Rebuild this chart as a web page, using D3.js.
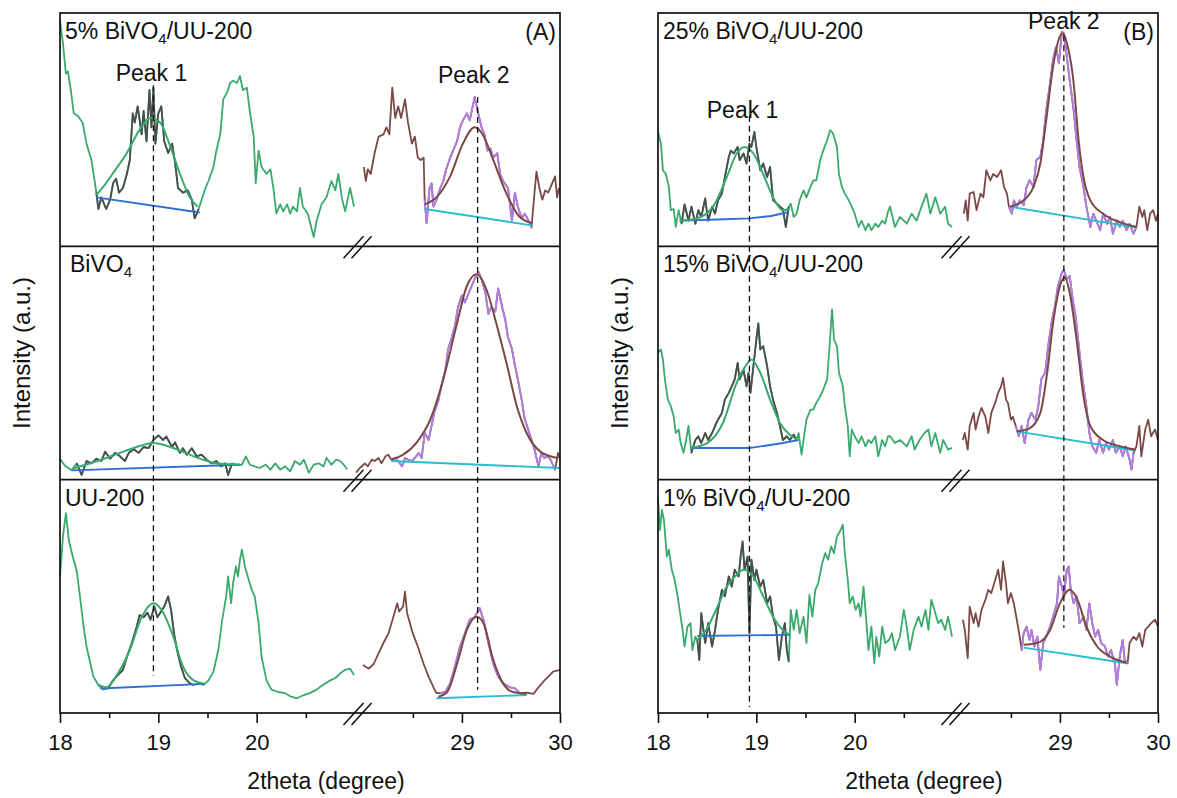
<!DOCTYPE html>
<html>
<head>
<meta charset="utf-8">
<script src="https://cdn.jsdelivr.net/npm/d3@7"></script>
<style>
  body { margin: 0; background: #fff; }
  text { font-family: "Liberation Sans", Arial, sans-serif; fill: #111; }
</style>
</head>
<body>
<svg width="1177" height="798"></svg>
<script>
// ---- axis data (2theta, degree) ----
const xBreaks = [18, 21, 27.92, 30];
const majorTicks = [18, 19, 20, 29, 30];
const minorTicks = [18.5, 19.5, 20.5, 28.5, 29.5];

// ---- panel A, row 1 : 5% BiVO4/UU-200 ----
const a1Left = [[18.00,97],[18.03,87],[18.06,74],[18.08,75],[18.11,67],[18.14,57],[18.18,56],[18.23,53],[18.27,44],[18.32,37],[18.37,23],[18.39,16],[18.42,21],[18.47,16],[18.51,20],[18.54,27],[18.57,29],[18.60,23],[18.64,25],[18.68,31],[18.71,37],[18.74,57],[18.76,53],[18.79,60],[18.83,48],[18.85,58],[18.88,45],[18.91,67],[18.93,51],[18.95,68],[18.97,44],[19.00,57],[19.03,60],[19.06,45],[19.10,40],[19.14,44],[19.17,36],[19.20,25],[19.25,23],[19.30,24],[19.34,20],[19.37,12],[19.41,16],[19.44,20],[19.48,25],[19.51,28],[19.56,34],[19.59,41],[19.63,48],[19.66,63],[19.70,66],[19.73,70],[19.76,71],[19.80,70],[19.83,73],[19.86,67],[19.90,68],[19.93,58],[19.97,47],[19.99,27],[20.02,41],[20.05,34],[20.10,31],[20.14,33],[20.17,25],[20.20,14],[20.24,18],[20.27,15],[20.31,18],[20.34,14],[20.37,17],[20.41,15],[20.44,25],[20.47,17],[20.52,14],[20.58,4],[20.61,11],[20.66,18],[20.71,21],[20.76,28],[20.80,24],[20.83,31],[20.87,20],[20.90,15],[20.95,25],[20.99,17]];
const a1Right = [[28.00,34],[28.02,28],[28.04,33],[28.07,31],[28.11,40],[28.15,47],[28.20,48],[28.23,51],[28.26,48],[28.29,68],[28.32,55],[28.35,60],[28.38,55],[28.42,63],[28.45,53],[28.49,44],[28.52,47],[28.55,38],[28.58,37],[28.61,38],[28.62,20],[28.64,10],[28.67,25],[28.69,27],[28.71,17],[28.74,20],[28.78,25],[28.81,28],[28.84,33],[28.88,38],[28.91,41],[28.95,45],[28.98,51],[29.01,54],[29.05,57],[29.08,54],[29.11,60],[29.13,64],[29.16,58],[29.20,51],[29.23,48],[29.26,41],[29.29,42],[29.32,38],[29.36,40],[29.39,31],[29.42,28],[29.47,25],[29.51,11],[29.54,23],[29.57,17],[29.61,12],[29.64,14],[29.68,11],[29.71,8],[29.74,23],[29.76,32],[29.79,25],[29.82,20],[29.85,24],[29.88,23],[29.92,27],[29.95,30],[29.97,21],[29.99,25]];
const a1Fit1 = [[18.37,22],[18.45,26],[18.55,32],[18.68,40],[18.81,50],[18.92,55],[19.02,53],[19.12,43],[19.22,31],[19.32,21],[19.40,17]];
const a1Base1 = [[18.37,21],[19.42,14.5]];
const a1Fit2 = [[28.62,18],[28.74,21],[28.88,30],[29.01,44],[29.13,51],[29.21,48],[29.31,38],[29.45,23],[29.58,13],[29.71,10]];
const a1Base2 = [[28.62,16],[29.71,9]];

// ---- panel A, row 2 : BiVO4 ----
const a2Left = [[18.00,9],[18.05,6],[18.12,4],[18.17,7],[18.22,2],[18.27,8],[18.32,7],[18.37,9],[18.42,8],[18.46,12],[18.51,9],[18.56,11.5],[18.61,10],[18.66,8],[18.70,11.5],[18.75,13],[18.80,11.5],[18.85,14],[18.90,13.5],[18.95,17],[19.00,19],[19.05,17],[19.08,18.5],[19.14,14],[19.17,16],[19.22,11.5],[19.25,13.5],[19.29,10.7],[19.34,13.5],[19.39,10],[19.44,10.7],[19.49,8.6],[19.54,7],[19.59,8],[19.64,5.7],[19.68,7],[19.71,2],[19.75,7],[19.80,6.4],[19.85,6.4],[19.89,10],[19.93,6.4],[19.98,5.7],[20.03,5],[20.09,6.4],[20.14,4.3],[20.19,7],[20.24,4.3],[20.29,5.7],[20.34,3.6],[20.39,8],[20.44,6.4],[20.48,8.6],[20.53,3],[20.58,6.4],[20.63,7],[20.68,5.7],[20.71,9.3],[20.76,6.4],[20.81,8.6],[20.85,8],[20.90,5.7],[20.92,4.3]];
const a2Right = [[27.92,3],[27.96,5],[28.01,7],[28.04,5.7],[28.08,8.6],[28.11,8],[28.15,9.3],[28.18,7],[28.22,10],[28.25,10.7],[28.28,8.6],[28.32,9.3],[28.35,8],[28.39,5.7],[28.42,9.3],[28.45,8.6],[28.49,8],[28.52,9.3],[28.56,11.5],[28.59,9.3],[28.62,20],[28.66,17],[28.69,23],[28.72,29],[28.76,34],[28.79,40],[28.83,47],[28.86,56],[28.89,60],[28.93,66],[28.96,74],[29.00,79],[29.03,76],[29.07,80],[29.10,83],[29.13,86],[29.17,89],[29.20,86],[29.24,80],[29.27,71],[29.30,74],[29.34,72],[29.37,82],[29.41,74],[29.44,69],[29.47,61],[29.51,56],[29.54,49],[29.57,43],[29.61,34],[29.64,26],[29.68,21],[29.71,17],[29.74,13],[29.78,5.7],[29.81,11.5],[29.84,9.3],[29.88,10],[29.91,8],[29.95,4.3],[29.98,11.5],[30.00,8.6]];
const a2Fit1 = [[18.12,4.6],[18.47,9.3],[18.75,13.6],[18.95,15.7],[19.15,13.6],[19.36,10],[19.59,7],[19.83,6.4]];
const a2Base1 = [[18.12,4],[19.83,6.4]];
const a2Fit2 = [[28.28,8.6],[28.40,10.7],[28.54,16],[28.68,26],[28.81,43],[28.95,67],[29.05,83],[29.15,88],[29.25,81.5],[29.35,67],[29.46,49],[29.56,31.5],[29.66,20],[29.80,12],[29.97,9.3]];
const a2Base2 = [[28.28,8],[30.00,5]];

// ---- panel A, row 3 : UU-200 ----
const a3Left = [[18.00,58.5],[18.03,75.7],[18.06,85.7],[18.09,74],[18.13,67],[18.17,61],[18.20,51],[18.24,37],[18.27,28.5],[18.31,21],[18.34,15.6],[18.39,12],[18.44,10],[18.49,10.6],[18.54,14],[18.59,16.3],[18.64,18.5],[18.68,24],[18.73,30],[18.78,37],[18.81,42],[18.85,41],[18.89,43],[18.92,40],[18.96,45.6],[18.99,41],[19.02,43],[19.06,45.6],[19.10,50],[19.13,44],[19.16,34],[19.19,27],[19.23,20],[19.27,15],[19.32,12.7],[19.36,12],[19.41,12.7],[19.46,12],[19.51,14],[19.56,17.7],[19.61,27],[19.65,40],[19.69,50],[19.71,58.5],[19.74,47],[19.76,55.6],[19.79,62.8],[19.81,58.5],[19.83,65.7],[19.85,70],[19.88,62.8],[19.92,57],[19.95,52.8],[19.98,50],[20.02,38.5],[20.05,24],[20.10,14],[20.15,10],[20.22,9],[20.29,8.5],[20.35,7],[20.41,6.3],[20.48,7.7],[20.54,8.5],[20.61,10],[20.64,11],[20.70,12.7],[20.75,14],[20.80,15],[20.85,17],[20.90,18.5],[20.95,19],[20.99,16.3]];
const a3Right = [[27.99,20.6],[28.05,19],[28.10,21],[28.15,25.6],[28.20,30],[28.25,34],[28.30,41],[28.34,47],[28.36,43.5],[28.40,45.6],[28.42,52],[28.44,43],[28.47,38.5],[28.50,34],[28.55,28.5],[28.61,21],[28.66,15.6],[28.71,11],[28.74,8.5],[28.78,8.5],[28.83,9],[28.88,12.7],[28.93,20],[28.98,28.5],[29.03,34],[29.08,40],[29.13,41],[29.18,45],[29.22,40],[29.27,30],[29.32,21],[29.37,15.6],[29.42,12.7],[29.49,11],[29.54,10.6],[29.59,8.5],[29.66,8.7],[29.73,8.2],[29.78,11],[29.83,13.4],[29.88,15.6],[29.93,17.7],[30.00,18.5]];
const a3Fit1 = [[18.39,12],[18.47,11],[18.59,17],[18.71,27],[18.83,41],[18.95,47],[19.05,43],[19.15,33],[19.25,20],[19.36,14],[19.46,12.7]];
const a3Base1 = [[18.41,10.5],[19.47,12.5]];
const a3Fit2 = [[28.76,7],[28.85,9],[28.95,21],[29.05,35.6],[29.15,41.3],[29.22,38.5],[29.32,22.7],[29.42,12.7],[29.52,9],[29.66,8.2]];
const a3Base2 = [[28.74,6.3],[29.66,7.7]];

// ---- panel B, row 1 : 25% BiVO4/UU-200 ----
const b1Left = [[18.00,49],[18.03,44],[18.05,32.6],[18.08,31],[18.11,25.5],[18.13,15.5],[18.16,16],[18.18,8.3],[18.21,15.5],[18.24,9.7],[18.27,18],[18.31,11],[18.34,17],[18.38,9.7],[18.41,15.5],[18.44,12.6],[18.48,20.5],[18.51,11],[18.55,17],[18.58,14],[18.61,19.7],[18.65,22.6],[18.68,29.7],[18.72,38.3],[18.74,41],[18.77,39.8],[18.81,42.6],[18.83,37],[18.87,39.8],[18.90,35.5],[18.93,44],[18.95,42.6],[18.98,49],[19.00,42.6],[19.04,32.6],[19.07,35.5],[19.11,29.7],[19.14,34],[19.17,19.7],[19.21,18.3],[19.24,17],[19.27,16],[19.30,8.3],[19.33,17],[19.35,18.3],[19.38,12.6],[19.41,14],[19.44,19.7],[19.48,24],[19.51,21],[19.55,25.5],[19.58,28.3],[19.61,28.3],[19.65,37],[19.68,41],[19.72,45.5],[19.75,49.8],[19.78,48.4],[19.82,42.6],[19.84,31],[19.87,25.5],[19.90,22.6],[19.94,19.7],[19.97,17],[20.00,14],[20.04,8.3],[20.07,11],[20.11,6.9],[20.14,9.7],[20.17,6.9],[20.21,9.7],[20.24,8.3],[20.28,11],[20.31,9.7],[20.34,15],[20.36,17],[20.41,8.3],[20.46,12.6],[20.53,9.7],[20.58,14],[20.63,11],[20.68,17],[20.73,22.6],[20.77,14],[20.82,21],[20.87,14],[20.92,17],[20.95,9.7],[20.99,8.3]];
const b1Right = [[28.02,14],[28.04,19.7],[28.06,11],[28.08,22.6],[28.12,23.3],[28.15,15.5],[28.19,22.6],[28.22,21],[28.25,32.6],[28.29,28.3],[28.32,31],[28.36,29.7],[28.40,32.6],[28.43,25.5],[28.46,22.6],[28.48,17],[28.51,14],[28.53,19.7],[28.56,17],[28.59,19.7],[28.63,17.6],[28.66,25.5],[28.69,28.3],[28.73,25.5],[28.76,37],[28.80,38.3],[28.83,45.5],[28.86,58.4],[28.90,70],[28.93,80],[28.96,85.5],[28.99,78.4],[29.02,92],[29.04,91.3],[29.07,81.3],[29.10,71],[29.14,58.4],[29.17,45.5],[29.20,34],[29.24,25.5],[29.27,17],[29.31,8.3],[29.34,14],[29.37,11],[29.41,6.9],[29.44,14],[29.48,9.7],[29.51,12.6],[29.54,5.4],[29.58,11],[29.61,8.3],[29.64,11],[29.68,6.9],[29.71,9.7],[29.75,5.4],[29.78,8.3],[29.81,17],[29.84,12.6],[29.86,15.5],[29.89,6.9],[29.92,14],[29.95,15.5],[29.98,11],[30.00,14]];
const b1Fit1 = [[18.22,11],[18.39,11.9],[18.56,17],[18.70,29.7],[18.80,39.8],[18.88,42.6],[18.97,39.8],[19.07,31],[19.17,21],[19.27,15.5],[19.34,16]];
const b1Base1 = [[18.22,11],[18.60,11.5],[18.93,12],[19.15,13],[19.31,14.5]];
const b1Fit2 = [[28.49,17],[28.63,19.7],[28.73,25.5],[28.80,35.5],[28.86,54],[28.93,77],[29.00,90],[29.03,91.3],[29.08,85.5],[29.14,70],[29.19,45.5],[29.24,29.7],[29.31,19.7],[29.44,14],[29.61,10.4],[29.78,8.3]];
const b1Base2 = [[28.49,17],[29.78,8]];

// ---- panel B, row 2 : 15% BiVO4/UU-200 ----
const b2Left = [[18.00,54.4],[18.03,55.8],[18.05,51.5],[18.07,43],[18.10,34.3],[18.13,31.5],[18.16,27],[18.18,20],[18.21,21.5],[18.23,15.7],[18.26,11.5],[18.28,15.7],[18.31,23],[18.34,11.5],[18.38,17],[18.41,18.6],[18.44,15.7],[18.48,20],[18.51,17],[18.55,20],[18.58,23],[18.61,25.7],[18.65,28.6],[18.68,34.3],[18.72,37.2],[18.75,40],[18.78,43],[18.81,50],[18.83,43],[18.87,47],[18.90,40],[18.92,45.8],[18.94,37.2],[18.97,48.6],[19.00,60],[19.02,67],[19.04,55.8],[19.07,57.2],[19.11,48.6],[19.14,40],[19.17,34.3],[19.21,28.6],[19.24,23],[19.27,17],[19.31,18.6],[19.34,17],[19.38,19.3],[19.41,17],[19.43,20],[19.46,10.7],[19.49,20],[19.51,25.7],[19.55,30],[19.58,30],[19.61,32.9],[19.65,35.8],[19.68,38.6],[19.72,43],[19.74,54.4],[19.77,73],[19.79,60],[19.82,57.2],[19.84,45.8],[19.88,40],[19.90,31.5],[19.93,23],[19.95,10],[19.97,21.5],[20.00,18.6],[20.04,15.7],[20.07,18.6],[20.11,14.3],[20.14,17],[20.17,15.7],[20.21,18.6],[20.24,10],[20.28,17],[20.31,14.3],[20.34,18.6],[20.36,18.6],[20.41,15.7],[20.46,17],[20.53,14.3],[20.58,18.6],[20.61,12.9],[20.66,17],[20.71,20],[20.75,21.5],[20.78,14.3],[20.82,20],[20.87,11.5],[20.90,17],[20.95,12.9],[20.99,13.6]];
const b2Right = [[28.01,17],[28.03,20],[28.06,12.9],[28.08,23],[28.12,28.6],[28.14,21.5],[28.17,27],[28.20,30.8],[28.24,27],[28.27,20],[28.30,28.6],[28.34,32.9],[28.37,37.2],[28.40,40],[28.42,43.6],[28.45,34.3],[28.47,32.9],[28.50,25.7],[28.52,27],[28.55,23],[28.58,18.6],[28.61,23],[28.64,15.7],[28.68,25.7],[28.71,28.6],[28.75,25.7],[28.78,31.5],[28.81,43],[28.85,45.8],[28.88,57.2],[28.92,68.7],[28.95,74.4],[28.98,83],[29.02,88.7],[29.04,90],[29.07,85.8],[29.10,87.2],[29.13,77.3],[29.16,70],[29.20,54.4],[29.23,43],[29.27,31.5],[29.30,20],[29.33,14.3],[29.37,11.5],[29.40,17],[29.44,11.5],[29.47,15.7],[29.50,12.9],[29.54,17],[29.57,11.5],[29.61,14.3],[29.64,10],[29.67,14.3],[29.71,8.6],[29.73,4.3],[29.75,11.5],[29.78,14.3],[29.81,23],[29.83,10],[29.87,21.5],[29.90,25.7],[29.93,18.6],[29.97,21.5],[30.00,17]];
const b2Fit1 = [[18.33,13.6],[18.50,15.7],[18.66,24.3],[18.80,41.5],[18.88,48],[18.95,51.5],[19.04,45.8],[19.14,34.3],[19.24,24.3],[19.34,19.3],[19.43,17]];
const b2Base1 = [[18.33,13.6],[18.94,13.6],[19.27,15.7],[19.43,17]];
const b2Fit2 = [[28.56,20.7],[28.69,22],[28.80,28.6],[28.87,45.8],[28.93,67],[29.00,83],[29.05,86.6],[29.10,80],[29.17,60],[29.24,35.8],[29.31,23],[29.44,17],[29.61,14.3],[29.77,12.9]];
const b2Base2 = [[28.56,20.7],[29.77,12.5]];

// ---- panel B, row 3 : 1% BiVO4/UU-200 ----
const b3Left = [[18.00,92],[18.02,78.5],[18.04,87],[18.06,82.8],[18.09,67],[18.11,70],[18.14,61.4],[18.17,57],[18.20,50],[18.22,44.2],[18.25,35.6],[18.27,28.5],[18.30,37],[18.33,38.5],[18.35,27],[18.38,32.7],[18.40,31.3],[18.42,22.7],[18.44,42.8],[18.48,30],[18.51,38.5],[18.55,28.5],[18.58,35.6],[18.61,44.2],[18.65,52.8],[18.68,50],[18.72,58.5],[18.75,54.2],[18.78,61.4],[18.82,58.5],[18.84,67],[18.86,73.5],[18.88,61.4],[18.91,67],[18.93,34.2],[18.95,65.7],[18.98,57],[19.00,61.4],[19.04,54.2],[19.07,57],[19.11,47],[19.14,50],[19.17,41.3],[19.20,37],[19.23,22.7],[19.26,32.7],[19.29,38.5],[19.31,27],[19.33,22],[19.35,44.2],[19.38,35.6],[19.41,44.2],[19.44,34.2],[19.48,41.3],[19.51,30],[19.54,50.6],[19.57,41.3],[19.60,52.8],[19.63,55.7],[19.67,64.2],[19.70,68.5],[19.73,65.7],[19.76,71.4],[19.79,68.5],[19.82,75.7],[19.85,77.8],[19.88,80.7],[19.90,68.5],[19.93,57],[19.95,47],[19.98,50],[20.01,44.2],[20.04,47],[20.06,41.3],[20.09,54.2],[20.12,38.5],[20.14,27],[20.17,37],[20.20,21.3],[20.22,32.7],[20.25,24.2],[20.28,37],[20.31,30],[20.35,31.3],[20.38,34.2],[20.41,27],[20.46,32.7],[20.50,44.2],[20.53,37],[20.56,27],[20.60,35.6],[20.65,41.3],[20.68,37],[20.72,44.2],[20.75,35.6],[20.78,48.5],[20.82,42.8],[20.85,38.5],[20.88,40],[20.92,35.6],[20.95,41.3],[20.99,32.7]];
const b3Right = [[28.01,40],[28.03,35.6],[28.06,23.5],[28.08,45.6],[28.12,38.5],[28.14,42.8],[28.17,37],[28.20,44.2],[28.24,48.5],[28.27,52.8],[28.30,51.4],[28.34,57],[28.37,61.4],[28.40,52.8],[28.42,65],[28.45,55.7],[28.47,47],[28.50,51.4],[28.53,47],[28.56,40],[28.59,32.7],[28.61,27],[28.63,34.2],[28.66,37],[28.69,31.3],[28.71,35.6],[28.74,28.5],[28.77,32.7],[28.80,18.5],[28.83,30],[28.86,32.7],[28.90,37],[28.93,41.3],[28.97,47],[28.99,58.5],[29.02,54.2],[29.04,50],[29.07,61.4],[29.09,62.8],[29.11,52.8],[29.14,47],[29.17,50],[29.20,38.5],[29.24,41.3],[29.27,35.6],[29.30,47],[29.33,38.5],[29.36,32.7],[29.39,35.6],[29.42,30],[29.46,28.5],[29.49,24.2],[29.52,27],[29.56,21.3],[29.58,12],[29.61,24.2],[29.64,31.3],[29.66,22.7],[29.69,21.3],[29.71,30],[29.75,32.7],[29.78,31.3],[29.81,34.2],[29.84,28.5],[29.87,35.6],[29.90,37],[29.93,38.5],[29.97,40],[30.00,37]];
const b3Fit1 = [[18.40,31.3],[18.49,35.6],[18.59,44.2],[18.70,54.2],[18.80,59.2],[18.87,61.4],[18.97,58.5],[19.07,50],[19.17,41.3],[19.27,35.6],[19.34,33.5]];
const b3Base1 = [[18.40,33],[19.34,33.5]];
const b3Fit2 = [[28.63,29.2],[28.77,30],[28.90,35.6],[29.00,47],[29.10,52.8],[29.18,48.5],[29.27,37],[29.38,28.5],[29.51,24.2],[29.68,21.6]];
const b3Base2 = [[28.63,28],[29.68,21.3]];

// sample names and fitted windows (2theta)
const namesA = ['5% BiVO4/UU-200', 'BiVO4', 'UU-200'];
const namesB = ['25% BiVO4/UU-200', '15% BiVO4/UU-200', '1% BiVO4/UU-200'];
const peak1WinA = [[18.37, 19.42], [18.15, 19.77], [18.47, 19.38]];
const peak2WinA = [[28.62, 29.71], [28.30, 29.97], [28.76, 29.62]];
const peak1WinB = [[18.23, 19.33], [18.33, 19.42], [18.40, 19.34]];
const peak2WinB = [[28.48, 29.78], [28.55, 29.77], [28.61, 29.69]];
// peak markers: 2theta, label 2theta, top/label value in first row, end value in last row
const peaksA = [{name: 'Peak 1', at: 18.95, lab: 18.93, top: 69, labV: 71, bottom: 16},
                {name: 'Peak 2', at: 29.16, lab: 29.12, top: 64, labV: 70, bottom: 10}];
const peaksB = [{name: 'Peak 1', at: 18.93, lab: 18.86, top: 56, labV: 55, bottom: 2.6},
                {name: 'Peak 2', at: 29.04, lab: 29.04, top: 90.5, labV: 93, bottom: 36.5}];

const colors = {raw1: '#3aaa6c', peak1: '#4d4d4d', base1: '#2f6fd3',
                raw2: '#7a4945', peak2: '#b27ee6', base2: '#26bfd0'};

const panels = [
  {left: 60, tag: '(A)', names: namesA, w1: peak1WinA, w2: peak2WinA, peaks: peaksA,
   rows: [[a1Left, a1Right, a1Fit1, a1Base1, a1Fit2, a1Base2],
          [a2Left, a2Right, a2Fit1, a2Base1, a2Fit2, a2Base2],
          [a3Left, a3Right, a3Fit1, a3Base1, a3Fit2, a3Base2]]},
  {left: 658, tag: '(B)', names: namesB, w1: peak1WinB, w2: peak2WinB, peaks: peaksB,
   rows: [[b1Left, b1Right, b1Fit1, b1Base1, b1Fit2, b1Base2],
          [b2Left, b2Right, b2Fit1, b2Base1, b2Fit2, b2Base2],
          [b3Left, b3Right, b3Fit1, b3Base1, b3Fit2, b3Base2]]}
];

const svg = d3.select('svg');
svg.append('rect').attr('width', 1177).attr('height', 798).attr('fill', '#fff');

const marginTop = 13, W = 500, H = 700, rowH = H / 3;
const fs = '23px';

panels.forEach(p => {
  const g = svg.append('g').attr('transform', `translate(${p.left},${marginTop})`);
  const x = d3.scaleLinear().domain(xBreaks).range([0, 295, 296, W]);
  const rowY = i => d3.scaleLinear().domain([0, 100]).range([(i + 1) * rowH, i * rowH]);

  p.rows.forEach((r, i) => {
    const y = rowY(i);
    const raw = d3.line().x(d => x(d[0])).y(d => y(d[1]));
    const fit = d3.line().curve(d3.curveMonotoneX).x(d => x(d[0])).y(d => y(d[1]));
    const win = (data, w) => data.filter(d => d[0] >= w[0] && d[0] <= w[1]);
    const [left, right, fit1, base1, fit2, base2] = r;

    const add = (data, gen, color, sw) => g.append('path')
      .attr('d', gen(data))
      .attr('fill', 'none')
      .attr('stroke', color)
      .attr('stroke-width', sw)
      .attr('stroke-linejoin', 'round');

    add(left, raw, colors.raw1, 1.8);
    add(win(left, p.w1[i]), raw, colors.peak1, 1.8);
    add(base1, raw, colors.base1, 1.9);
    add(fit1, fit, colors.raw1, 2);

    add(right, raw, colors.raw2, 1.8);
    add(win(right, p.w2[i]), raw, colors.peak2, 1.8);
    add(base2, raw, colors.base2, 1.9);
    add(fit2, fit, colors.raw2, 2);

    // sample label with subscript 4
    const parts = p.names[i].split('BiVO4');
    const t = g.append('text')
      .attr('x', i === 1 && p.tag === '(A)' ? 10 : 5)
      .attr('y', i * rowH + 26)
      .style('font-size', fs);
    if (parts.length > 1) {
      t.append('tspan').text(parts[0] + 'BiVO');
      t.append('tspan').attr('dy', 5).style('font-size', '15px').text('4');
      t.append('tspan').attr('dy', -5).text(parts[1]);
    } else {
      t.text(parts[0]);
    }
  });

  // dashed peak markers
  p.peaks.forEach(pk => {
    g.append('line')
      .attr('x1', x(pk.at)).attr('x2', x(pk.at))
      .attr('y1', rowY(0)(pk.top)).attr('y2', rowY(2)(pk.bottom))
      .attr('stroke', '#111').attr('stroke-width', 1.3)
      .attr('stroke-dasharray', '6,4');
    g.append('text')
      .attr('x', x(pk.lab)).attr('y', rowY(0)(pk.labV))
      .attr('text-anchor', 'middle')
      .style('font-size', fs)
      .text(pk.name);
  });

  g.append('text')
    .attr('x', W - 4).attr('y', 27)
    .attr('text-anchor', 'end')
    .style('font-size', fs)
    .text(p.tag);

  // frame and row dividers
  g.append('rect').attr('width', W).attr('height', H)
    .attr('fill', 'none').attr('stroke', '#111').attr('stroke-width', 1.7);
  [1, 2].forEach(k => g.append('line')
    .attr('x1', 0).attr('x2', W).attr('y1', k * rowH).attr('y2', k * rowH)
    .attr('stroke', '#111').attr('stroke-width', 1.7));

  // axis break marks
  const bx = (x(21) + x(27.92)) / 2 + 3;
  [1, 2, 3].forEach(k => {
    const by = k * rowH + 1;
    [-9, -1].forEach(o => g.append('line')
      .attr('x1', bx + o - 6).attr('y1', by + 11)
      .attr('x2', bx + o + 14).attr('y2', by - 11)
      .attr('stroke', '#111').attr('stroke-width', 1.5));
  });

  // bottom axis
  const ax = g.append('g').attr('transform', `translate(0,${H})`)
    .call(d3.axisBottom(x).tickValues(majorTicks).tickSize(10).tickPadding(11)
      .tickFormat(d3.format('d')));
  ax.select('.domain').remove();
  ax.selectAll('line').attr('stroke', '#111').attr('stroke-width', 1.6);
  ax.selectAll('text').style('font-size', '22px').attr('fill', '#111')
    .style('font-family', '"Liberation Sans", Arial, sans-serif');
  const mx = g.append('g').attr('transform', `translate(0,${H})`)
    .call(d3.axisBottom(x).tickValues(minorTicks).tickSize(5).tickFormat(''));
  mx.select('.domain').remove();
  mx.selectAll('line').attr('stroke', '#111').attr('stroke-width', 1.6);

  g.append('text')
    .attr('x', 266).attr('y', H + 76)
    .attr('text-anchor', 'middle')
    .style('font-size', fs)
    .text('2theta (degree)');

  g.append('text')
    .attr('transform', `translate(${-30},${340}) rotate(-90)`)
    .attr('text-anchor', 'middle')
    .style('font-size', '24px')
    .text('Intensity (a.u.)');
});
</script>
</body>
</html>
